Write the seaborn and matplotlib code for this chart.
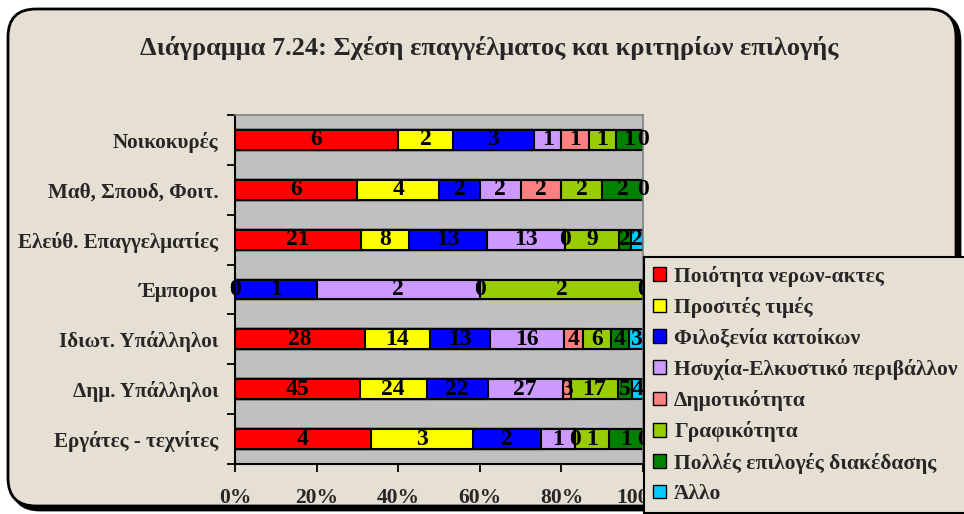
import numpy as np
import pandas as pd
import matplotlib.pyplot as plt
import seaborn as sns
from matplotlib.patches import Patch, FancyBboxPatch
from matplotlib.ticker import PercentFormatter

sns.set_style('white')
plt.rcParams['font.family'] = ['Liberation Serif', 'DejaVu Serif']

# δεδομένα (από πάνω προς τα κάτω)
occupations = ['Νοικοκυρές', 'Μαθ, Σπουδ, Φοιτ.', 'Ελεύθ. Επαγγελματίες', 'Έμποροι',
               'Ιδιωτ. Υπάλληλοι', 'Δημ. Υπάλληλοι', 'Εργάτες - τεχνίτες']
criteria = ['Ποιότητα νερων-ακτες', 'Προσιτές τιμές', 'Φιλοξενία κατοίκων',
            'Ησυχία-Ελκυστικό περιβάλλον', 'Δημοτικότητα', 'Γραφικότητα',
            'Πολλές επιλογές διακέδασης', 'Άλλο']
quality = [6, 6, 21, 0, 28, 45, 4]
prices = [2, 4, 8, 0, 14, 24, 3]
hospitality = [3, 2, 13, 1, 13, 22, 2]
quiet = [1, 2, 13, 2, 16, 27, 1]
popularity = [1, 2, 0, 0, 4, 3, 0]
scenery = [1, 2, 9, 2, 6, 17, 1]
entertainment = [1, 2, 2, 0, 4, 5, 1]
other = [0, 0, 2, 0, 3, 4, 0]
colors = ['#FF0000', '#FFFF00', '#0000FF', '#CC99FF', '#FF8080', '#99CC00', '#008000', '#00CCFF']

df = pd.DataFrame(dict(zip(criteria, [quality, prices, hospitality, quiet,
                                      popularity, scenery, entertainment, other])),
                  index=occupations)
pct = df.div(df.sum(axis=1), axis=0) * 100
cum = pct.cumsum(axis=1)

bg = '#E6E0D4'
fig = plt.figure(figsize=(9.64, 5.14), dpi=100)
fig.patch.set_facecolor('white')

# πλαίσιο με στρογγυλές γωνίες
bg_ax = fig.add_axes([0, 0, 1, 1])
bg_ax.set_xlim(0, 964)
bg_ax.set_ylim(514, 0)
bg_ax.axis('off')
bg_ax.add_patch(FancyBboxPatch((12, 13), 948, 497, boxstyle='round,pad=0,rounding_size=28',
                               facecolor='black', edgecolor='black', lw=2))
bg_ax.add_patch(FancyBboxPatch((8, 9), 948, 497, boxstyle='round,pad=0,rounding_size=28',
                               facecolor=bg, edgecolor='black', lw=2))
bg_ax.set_zorder(0)

ax = fig.add_axes([235 / 964, 1 - 464 / 514, 408 / 964, 349 / 514])
ax.set_zorder(1)
ax.set_facecolor('#C0C0C0')

# στοιβαγμένες μπάρες: σχεδιάζουμε τα αθροιστικά από το τελευταίο προς το πρώτο
for crit, col in zip(reversed(criteria), reversed(colors)):
    sns.barplot(x=cum[crit].values, y=occupations, color=col, saturation=1,
                width=0.4, edgecolor='black', linewidth=1.5, orient='h', ax=ax)

for i, occ in enumerate(occupations):
    for crit in criteria:
        centre = cum.loc[occ, crit] - pct.loc[occ, crit] / 2
        ax.text(centre, i, str(df.loc[occ, crit]), ha='center', va='center',
                fontsize=17, fontweight='bold', color='black', zorder=5)

ax.set_xlim(0, 100)
ax.set_ylim(6.5, -0.5)
ax.set_xticks(range(0, 101, 20))
ax.xaxis.set_major_formatter(PercentFormatter(decimals=0))
ax.set_yticks(range(len(occupations)))
ax.set_yticklabels(occupations)
ax.set_yticks(np.arange(-0.5, 7), minor=True)
ax.set_xlabel('')
ax.set_ylabel('')
ax.tick_params(axis='y', which='major', length=0, pad=12, labelsize=15.2)
ax.tick_params(axis='y', which='minor', length=6, width=1.3, color='black', direction='out', left=True)
ax.tick_params(axis='x', length=6, width=1.3, color='black', direction='out', bottom=True,
               pad=11, labelsize=15.5)
for lab in ax.get_xticklabels() + ax.get_yticklabels():
    lab.set_fontweight('bold')
for s in ['left', 'bottom']:
    ax.spines[s].set_color('black')
    ax.spines[s].set_linewidth(1.5)
for s in ['top', 'right']:
    ax.spines[s].set_color('#808080')
    ax.spines[s].set_linewidth(1.2)

fig.text(489 / 964, 1 - 48 / 514, 'Διάγραμμα 7.24: Σχέση επαγγέλματος και κριτηρίων επιλογής',
         ha='center', va='center', fontsize=19, fontweight='bold')

handles = [Patch(facecolor=c, edgecolor='black', label=l) for c, l in zip(colors, criteria)]
leg = fig.legend(handles=handles, loc='upper left', bbox_to_anchor=(644 / 964, 1 - 257 / 514),
                 prop={'weight': 'bold', 'size': 15.5}, handlelength=0.6, handleheight=0.6,
                 labelspacing=0.48, handletextpad=0.4, borderpad=0.4, borderaxespad=0,
                 fancybox=False, frameon=True, edgecolor='black', facecolor=bg, framealpha=1)
leg.get_frame().set_linewidth(1.5)

fig.savefig('out.png', dpi=100)
